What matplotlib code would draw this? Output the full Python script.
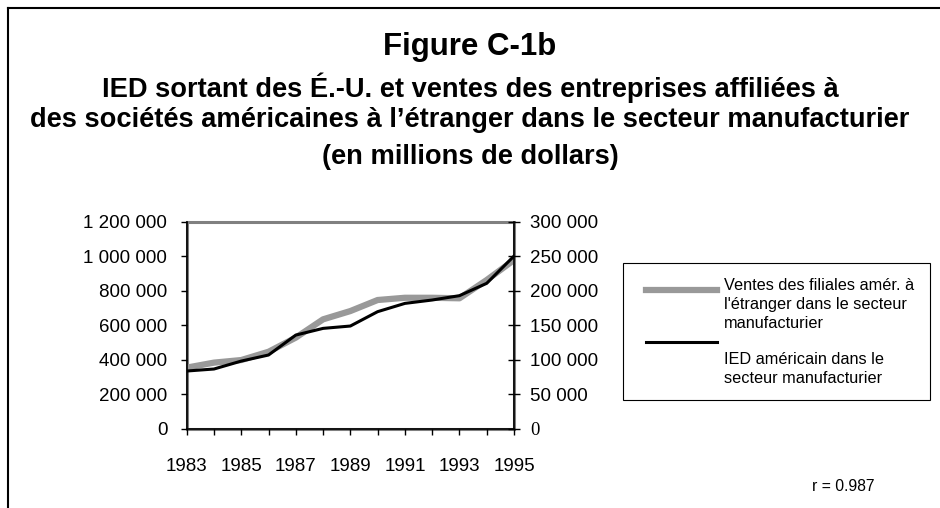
import matplotlib
matplotlib.use("Agg")
import matplotlib.pyplot as plt
from matplotlib.lines import Line2D
from matplotlib.patches import Rectangle
from matplotlib.ticker import FuncFormatter

plt.rcParams['font.family'] = ['Liberation Sans', 'DejaVu Sans']

# data (millions de dollars)
years = [1983, 1984, 1985, 1986, 1987, 1988, 1989, 1990, 1991, 1992, 1993, 1994, 1995]
ventes = [354000, 383000, 398000, 446000, 528000, 634000, 682000, 746000, 759000,
          759000, 756000, 862000, 978000]
ied = [83600, 86500, 98000, 106800, 135700, 145400, 148800, 169600, 181600,
       186500, 192800, 210700, 250200]

label_ventes = ["Ventes des filiales amér. à", "l'étranger dans le secteur", "manufacturier"]
label_ied = ["IED américain dans le", "secteur manufacturier"]
titles = ["IED sortant des É.-U. et ventes des entreprises affiliées à",
          "des sociétés américaines à l’étranger dans le secteur manufacturier",
          "(en millions de dollars)"]


def fmt(v, pos):
    return "{:,.0f}".format(v).replace(",", " ")


def fy(px):
    # pixel row -> figure fraction
    return 1 - px / 508


fig = plt.figure(figsize=(9.4, 5.08), dpi=100)

# page border (top and left only visible)
fig.add_artist(Line2D([8/940, 8/940], [0, fy(8)], color='black', lw=1.5))
fig.add_artist(Line2D([8/940, 1], [fy(8), fy(8)], color='black', lw=1.5))

ax = fig.add_axes([186.7/940, fy(428.7), 327.3/940, 207/508])
ax2 = ax.twinx()

ax.plot(years, ventes, color='#999999', lw=4.5, zorder=2)
ax2.plot(years, ied, color='black', lw=2.2, zorder=3)

ax.set_xlim(1983, 1995)
ax.set_ylim(0, 1200000)
ax2.set_ylim(0, 300000)
ax.set_yticks(range(0, 1200001, 200000))
ax2.set_yticks(range(0, 300001, 50000))
ax.yaxis.set_major_formatter(FuncFormatter(fmt))
ax2.yaxis.set_major_formatter(FuncFormatter(fmt))
ax.set_xticks(years[::2])
ax.set_xticks(years, minor=True)

for a in (ax, ax2):
    for s in a.spines.values():
        s.set_visible(False)

# plot area frame (grey) + black axes
ax.add_patch(Rectangle((0, 0), 1, 1, transform=ax.transAxes, fill=False,
                       edgecolor='#808080', lw=2.2, clip_on=False, zorder=1))
ax.spines['left'].set_visible(True)
ax.spines['bottom'].set_visible(True)
ax2.spines['right'].set_visible(True)
for s in (ax.spines['left'], ax.spines['bottom'], ax2.spines['right']):
    s.set_color('black')
    s.set_linewidth(1.2)
    s.set_zorder(5)

ax.tick_params(axis='y', direction='out', length=4, width=1, labelsize=13.5, pad=10)
ax.tick_params(axis='x', which='both', direction='out', length=4, width=1,
               labelsize=13.5, pad=17)
ax2.tick_params(axis='y', direction='inout', length=9, width=1, labelsize=13.5, pad=7)

fig.canvas.draw()
ax2.get_yticklabels()[0].set_family('Liberation Serif')

# titles
fig.text(0.5, fy(55), "Figure C-1b", ha='center', va='baseline',
         fontsize=22.5, fontweight='bold')
for t, base in zip(titles, [97, 127, 164]):
    fig.text(0.5, fy(base), t, ha='center', va='baseline', fontsize=19.6,
             fontweight='bold')

# legend
fig.add_artist(Rectangle((623/940, fy(400)), 307/940, 137/508, fill=False,
                         edgecolor='black', lw=0.8, transform=fig.transFigure))
fig.add_artist(Line2D([646/940, 717/940], [fy(290), fy(290)],
                      color='#999999', lw=4.5, transform=fig.transFigure))
fig.add_artist(Line2D([646/940, 717/940], [fy(342), fy(342)],
                      color='black', lw=2.2, transform=fig.transFigure))
for t, c in zip(label_ventes, [283.5, 303, 322.5]):
    fig.text(724/940, fy(c + 6), t, ha='left', va='baseline', fontsize=11.7)
for t, c in zip(label_ied, [358.5, 377]):
    fig.text(724/940, fy(c + 6), t, ha='left', va='baseline', fontsize=11.7)

fig.text(812/940, fy(485 + 6), "r = 0.987", ha='left', va='baseline', fontsize=11.3)

fig.savefig("out.png", dpi=100)
